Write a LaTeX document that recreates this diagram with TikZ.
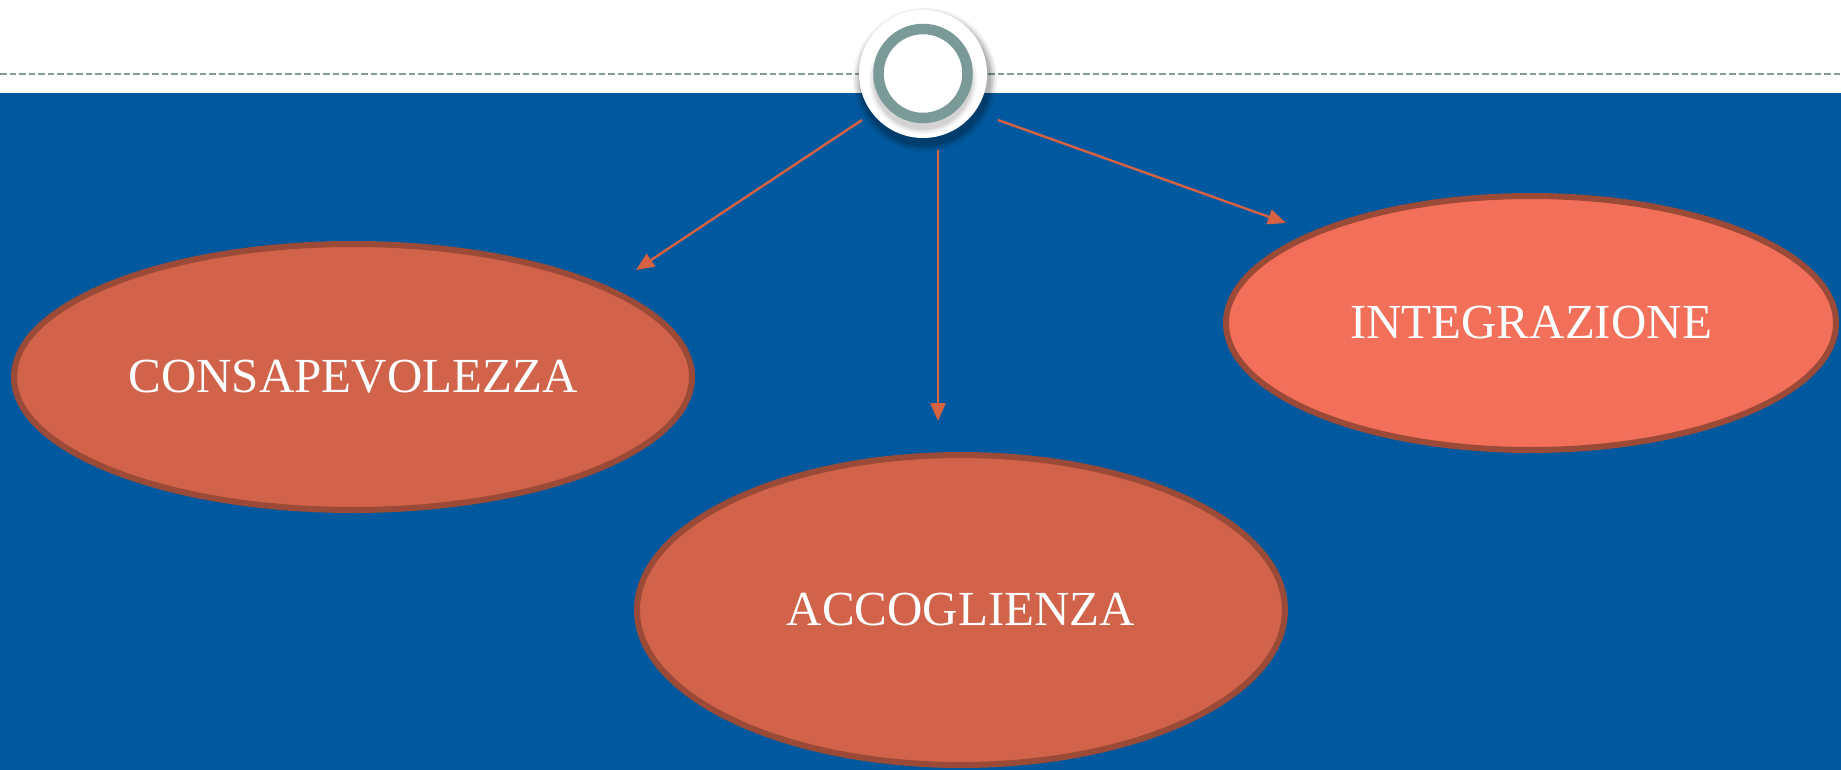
\documentclass[tikz,border=0pt]{standalone}
\usepackage{fontspec}
\setmainfont{Liberation Serif}
\usetikzlibrary{shapes.geometric,arrows.meta}
\definecolor{bandblue}{RGB}{0,89,158}
\definecolor{ringgray}{RGB}{122,154,152}
\definecolor{dashgray}{RGB}{130,155,155}
\definecolor{arrowcol}{RGB}{214,98,66}
\definecolor{ellfill}{RGB}{208,99,74}
\definecolor{ellfilltwo}{RGB}{242,112,90}
\definecolor{ellborder}{RGB}{154,74,54}
\tikzset{
  bubble/.style={ellipse, draw=ellborder, line width=6pt, fill=ellfill, inner sep=0pt,
     text=white, font=\fontsize{49}{53}\selectfont},
  link/.style={draw=arrowcol, line width=2.4pt, -{Triangle[length=18pt,width=15pt]}}
}
\begin{document}
\begin{tikzpicture}[x=1pt,y=-1pt]
\useasboundingbox (0,0) rectangle (1841,770);
\fill[white] (0,0) rectangle (1841,770);
\fill[bandblue] (0,93) rectangle (1841,770);
\draw[dashgray, line width=2.5pt, dash pattern=on 6.5pt off 3pt] (0,74) -- (1841,74);
% hub with soft shadow
\foreach \r/\o in {72/0.05,70/0.07,68/0.09,66/0.12}{
  \fill[black, opacity=\o] (925,80) circle (\r);
}
\fill[white] (923,74) circle (64);
\foreach \r/\o in {54/0.04,52/0.06,50/0.08}{
  \fill[black, opacity=\o] (923,80) circle (\r);
}
\node[circle, draw=ringgray, line width=10.5pt, fill=white, minimum size=89pt, inner sep=0pt] (hub) at (923,73.5) {};
% ellipses
\node[bubble, minimum width=678pt, minimum height=266pt] (cons) at (353,377) {CONSAPEVOLEZZA};
\node[bubble, minimum width=648pt, minimum height=310pt] (acc) at (961,610) {ACCOGLIENZA};
\node[bubble, fill=ellfilltwo, minimum width=610pt, minimum height=254pt] (integ) at (1531,323) {INTEGRAZIONE};
% arrow endpoints
\coordinate (s1) at (862,120);
\coordinate (e1) at (636,270);
\coordinate (s2) at (938,150);
\coordinate (e2) at (938,421);
\coordinate (s3) at (998,120);
\coordinate (e3) at (1286,223);
\draw[link] (s1) -- (e1);
\draw[link] (s2) -- (e2);
\draw[link] (s3) -- (e3);
\end{tikzpicture}
\end{document}
